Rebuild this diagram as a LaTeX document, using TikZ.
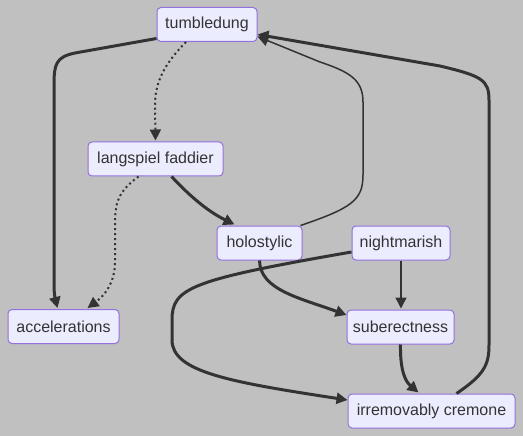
\documentclass[tikz,border=0pt]{standalone}
\usepackage{fontspec}
\setmainfont{Liberation Sans}
\usetikzlibrary{arrows.meta,calc}
\definecolor{bg}{HTML}{C0C0C0}
\definecolor{nodefill}{HTML}{ECECFF}
\definecolor{nodeborder}{HTML}{9370DB}
\definecolor{edge}{HTML}{333333}
\tikzset{
  box/.style={draw=nodeborder, fill=nodefill, rounded corners=4pt, line width=1pt,
    minimum height=34pt, inner sep=0pt, text=edge, font=\fontsize{16}{19}\selectfont},
  thickedge/.style={draw=edge, line width=3pt, -{Triangle[length=11pt,width=11pt]}},
  thinedge/.style={draw=edge, line width=1.5pt, -{Triangle[length=11pt,width=11pt]}},
  dotedge/.style={draw=edge, line width=2pt, dash pattern=on 2pt off 3pt, -{Triangle[length=11pt,width=11pt]}},
}
\begin{document}
\begin{tikzpicture}[x=1pt,y=-1pt]
\fill[bg] (0,0) rectangle (523,436);
\useasboundingbox (0,0) rectangle (523,436);
\node[box, minimum width=100pt] (t) at (207,24.5) {tumbledung};
\node[box, minimum width=135pt] (l) at (155.5,159) {langspiel faddier};
\node[box, minimum width=111pt] (a) at (63.5,326.5) {accelerations};
\node[box, minimum width=85pt] (h) at (259.5,243) {holostylic};
\node[box, minimum width=98pt] (n) at (401,243) {nightmarish};
\node[box, minimum width=107pt] (s) at (400.5,327) {suberectness};
\node[box, minimum width=167pt] (i) at (431.5,411) {irremovably cremone};

% tumbledung -> accelerations
\draw[thickedge] ($(t.west)+(0,14)$) -- (75,53) .. controls (56,57) and (54,64) .. (54,85) -- (54,285) .. controls (54,296) and (56,302) .. ($(a.north)+(-6,-1)$);
% tumbledung -> langspiel (dotted)
\draw[dotedge] ($(t.south)+(-21,0)$) .. controls (162,66) and (155,85) .. (155,105) -- ($(l.north)+(0,-1)$);
% langspiel -> accelerations (dotted)
\draw[dotedge] ($(l.south)+(-17,0)$) .. controls (118,192) and (115,202) .. (115,225) -- (115,262) .. controls (115,283) and (104,296) .. ($(a.north)+(24,-1)$);
% langspiel -> holostylic
\draw[thickedge] ($(l.south)+(16,0)$) .. controls (186,192) and (205,210) .. ($(h.north)+(-25,-1)$);
% holostylic -> tumbledung (thin)
\draw[thinedge] ($(h.north)+(41,0)$) .. controls (352,208) and (363,200) .. (363,175) -- (363,102) .. controls (363,80) and (350,72) .. (320,62) -- ($(t.east)+(0,12)$);
% irremovably -> tumbledung
\draw[thickedge] ($(i.north)+(25,0)$) .. controls (484,375) and (489,365) .. (489,345) -- (489,100) .. controls (489,80) and (482,76) .. (440,66) -- ($(t.east)+(0,10)$);
% holostylic -> suberectness
\draw[thickedge] ($(h.south)+(0,0)$) .. controls (260,290) and (300,298) .. ($(s.west)+(0,-12)$);
% nightmarish -> suberectness
\draw[thinedge] (n.south) -- ($(s.north)+(0.5,-1)$);
% nightmarish -> irremovably
\draw[thickedge] ($(n.west)+(0,9)$) .. controls (190,280) and (172,288) .. (172,320) -- (172,340) .. controls (172,372) and (230,382) .. ($(i.west)+(0,-11)$);
% suberectness -> irremovably
\draw[thickedge] (s.south) .. controls (400,372) and (406,382) .. ($(i.north)+(-13,-1)$);
\end{tikzpicture}
\end{document}
